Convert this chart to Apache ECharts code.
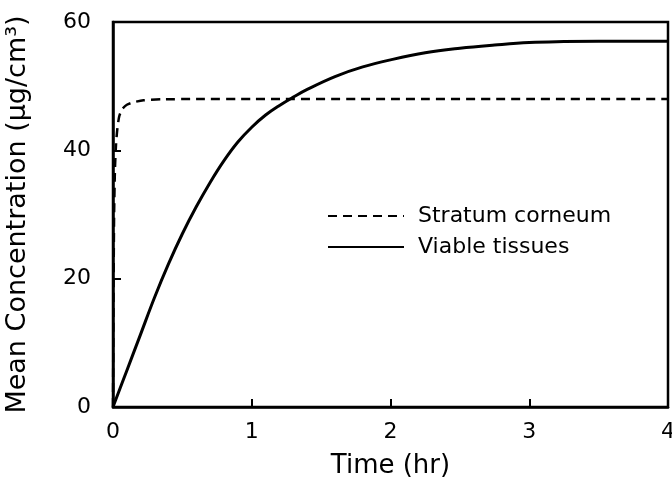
<!DOCTYPE html>
<html>
<head>
<meta charset="utf-8">
<script src="https://cdn.jsdelivr.net/npm/echarts@6/dist/echarts.min.js"></script>
<style>
  html, body { margin: 0; padding: 0; background: #fff; }
  #chart { width: 672px; height: 498px; }
</style>
</head>
<body>
<div id="chart"></div>
<script>
// Mean drug concentration in the two skin layers over time
const seriesNames = ['Stratum corneum', 'Viable tissues'];

// Stratum corneum: near-instant rise to a plateau
const timeSC = [0, 0.004, 0.008, 0.014, 0.022, 0.032, 0.045, 0.065, 0.1, 0.15, 0.22, 0.35, 0.6, 1, 2, 3, 4];
const concSC = [0, 18, 30, 37, 41, 43.5, 45.3, 46.4, 47.1, 47.5, 47.8, 47.95, 48, 48, 48, 48, 48];

// Viable tissues: slower uptake towards a higher plateau
const timeVT = [0, 0.1, 0.2, 0.3, 0.4, 0.5, 0.6, 0.7, 0.8, 0.9, 1.0, 1.1, 1.2, 1.3, 1.4, 1.6, 1.8, 2.0, 2.25, 2.5, 2.75, 3.0, 3.25, 3.5, 3.75, 4.0];
const concVT = [0, 5.7, 11.4, 17.1, 22.3, 27.0, 31.2, 35.0, 38.4, 41.3, 43.6, 45.5, 47.0, 48.3, 49.5, 51.5, 53.0, 54.1, 55.2, 55.9, 56.4, 56.8, 56.95, 57, 57, 57];

const xTicks = [0, 1, 2, 3, 4];
const yTicks = [0, 20, 40, 60];

const FONT = 'DejaVu Sans';
const pair = (xs, ys) => xs.map((x, i) => [x, ys[i]]);

const chart = echarts.init(document.getElementById('chart'), null, { renderer: 'canvas' });
chart.setOption({
  backgroundColor: '#ffffff',
  animation: false,
  grid: {
    left: 113, right: 4, top: 22, bottom: 91,
    outerBoundsMode: 'none',
    containLabel: false,
    show: true, borderColor: '#000', borderWidth: 2.5, backgroundColor: 'transparent'
  },
  legend: {
    orient: 'vertical',
    left: 322, top: 200,
    itemWidth: 76, itemHeight: 14, itemGap: 9,
    data: seriesNames,
    itemStyle: { opacity: 0 },
    textStyle: { fontFamily: FONT, fontSize: 22, color: '#000', padding: [0, 0, 0, 9] }
  },
  xAxis: {
    type: 'value',
    min: xTicks[0], max: xTicks[xTicks.length - 1], interval: 1,
    name: 'Time (hr)',
    nameLocation: 'middle', nameGap: 46,
    nameTextStyle: { fontFamily: FONT, fontSize: 26, color: '#000' },
    axisLine: { show: true, lineStyle: { color: '#000', width: 2.5 } },
    axisTick: { show: true, inside: true, length: 8, lineStyle: { color: '#000', width: 2 } },
    axisLabel: { fontFamily: FONT, fontSize: 22, color: '#000', margin: 14 },
    splitLine: { show: false }
  },
  yAxis: {
    type: 'value',
    min: yTicks[0], max: yTicks[yTicks.length - 1], interval: 20,
    name: 'Mean Concentration (μg/cm³)',
    nameLocation: 'middle', nameGap: 82,
    nameTextStyle: { fontFamily: FONT, fontSize: 27, color: '#000' },
    axisLine: { show: true, lineStyle: { color: '#000', width: 2.5 } },
    axisTick: { show: true, inside: true, length: 8, lineStyle: { color: '#000', width: 2 } },
    axisLabel: { fontFamily: FONT, fontSize: 22, color: '#000', margin: 22 },
    splitLine: { show: false }
  },
  series: [
    {
      name: seriesNames[0],
      type: 'line',
      data: pair(timeSC, concSC),
      symbol: 'none',
      smooth: 0.2,
      color: '#000',
      lineStyle: { color: '#000', width: 2.5, type: [9, 6] }
    },
    {
      name: seriesNames[1],
      type: 'line',
      data: pair(timeVT, concVT),
      symbol: 'none',
      smooth: 0.4,
      color: '#000',
      lineStyle: { color: '#000', width: 3, type: 'solid' }
    }
  ]
});
</script>
</body>
</html>
